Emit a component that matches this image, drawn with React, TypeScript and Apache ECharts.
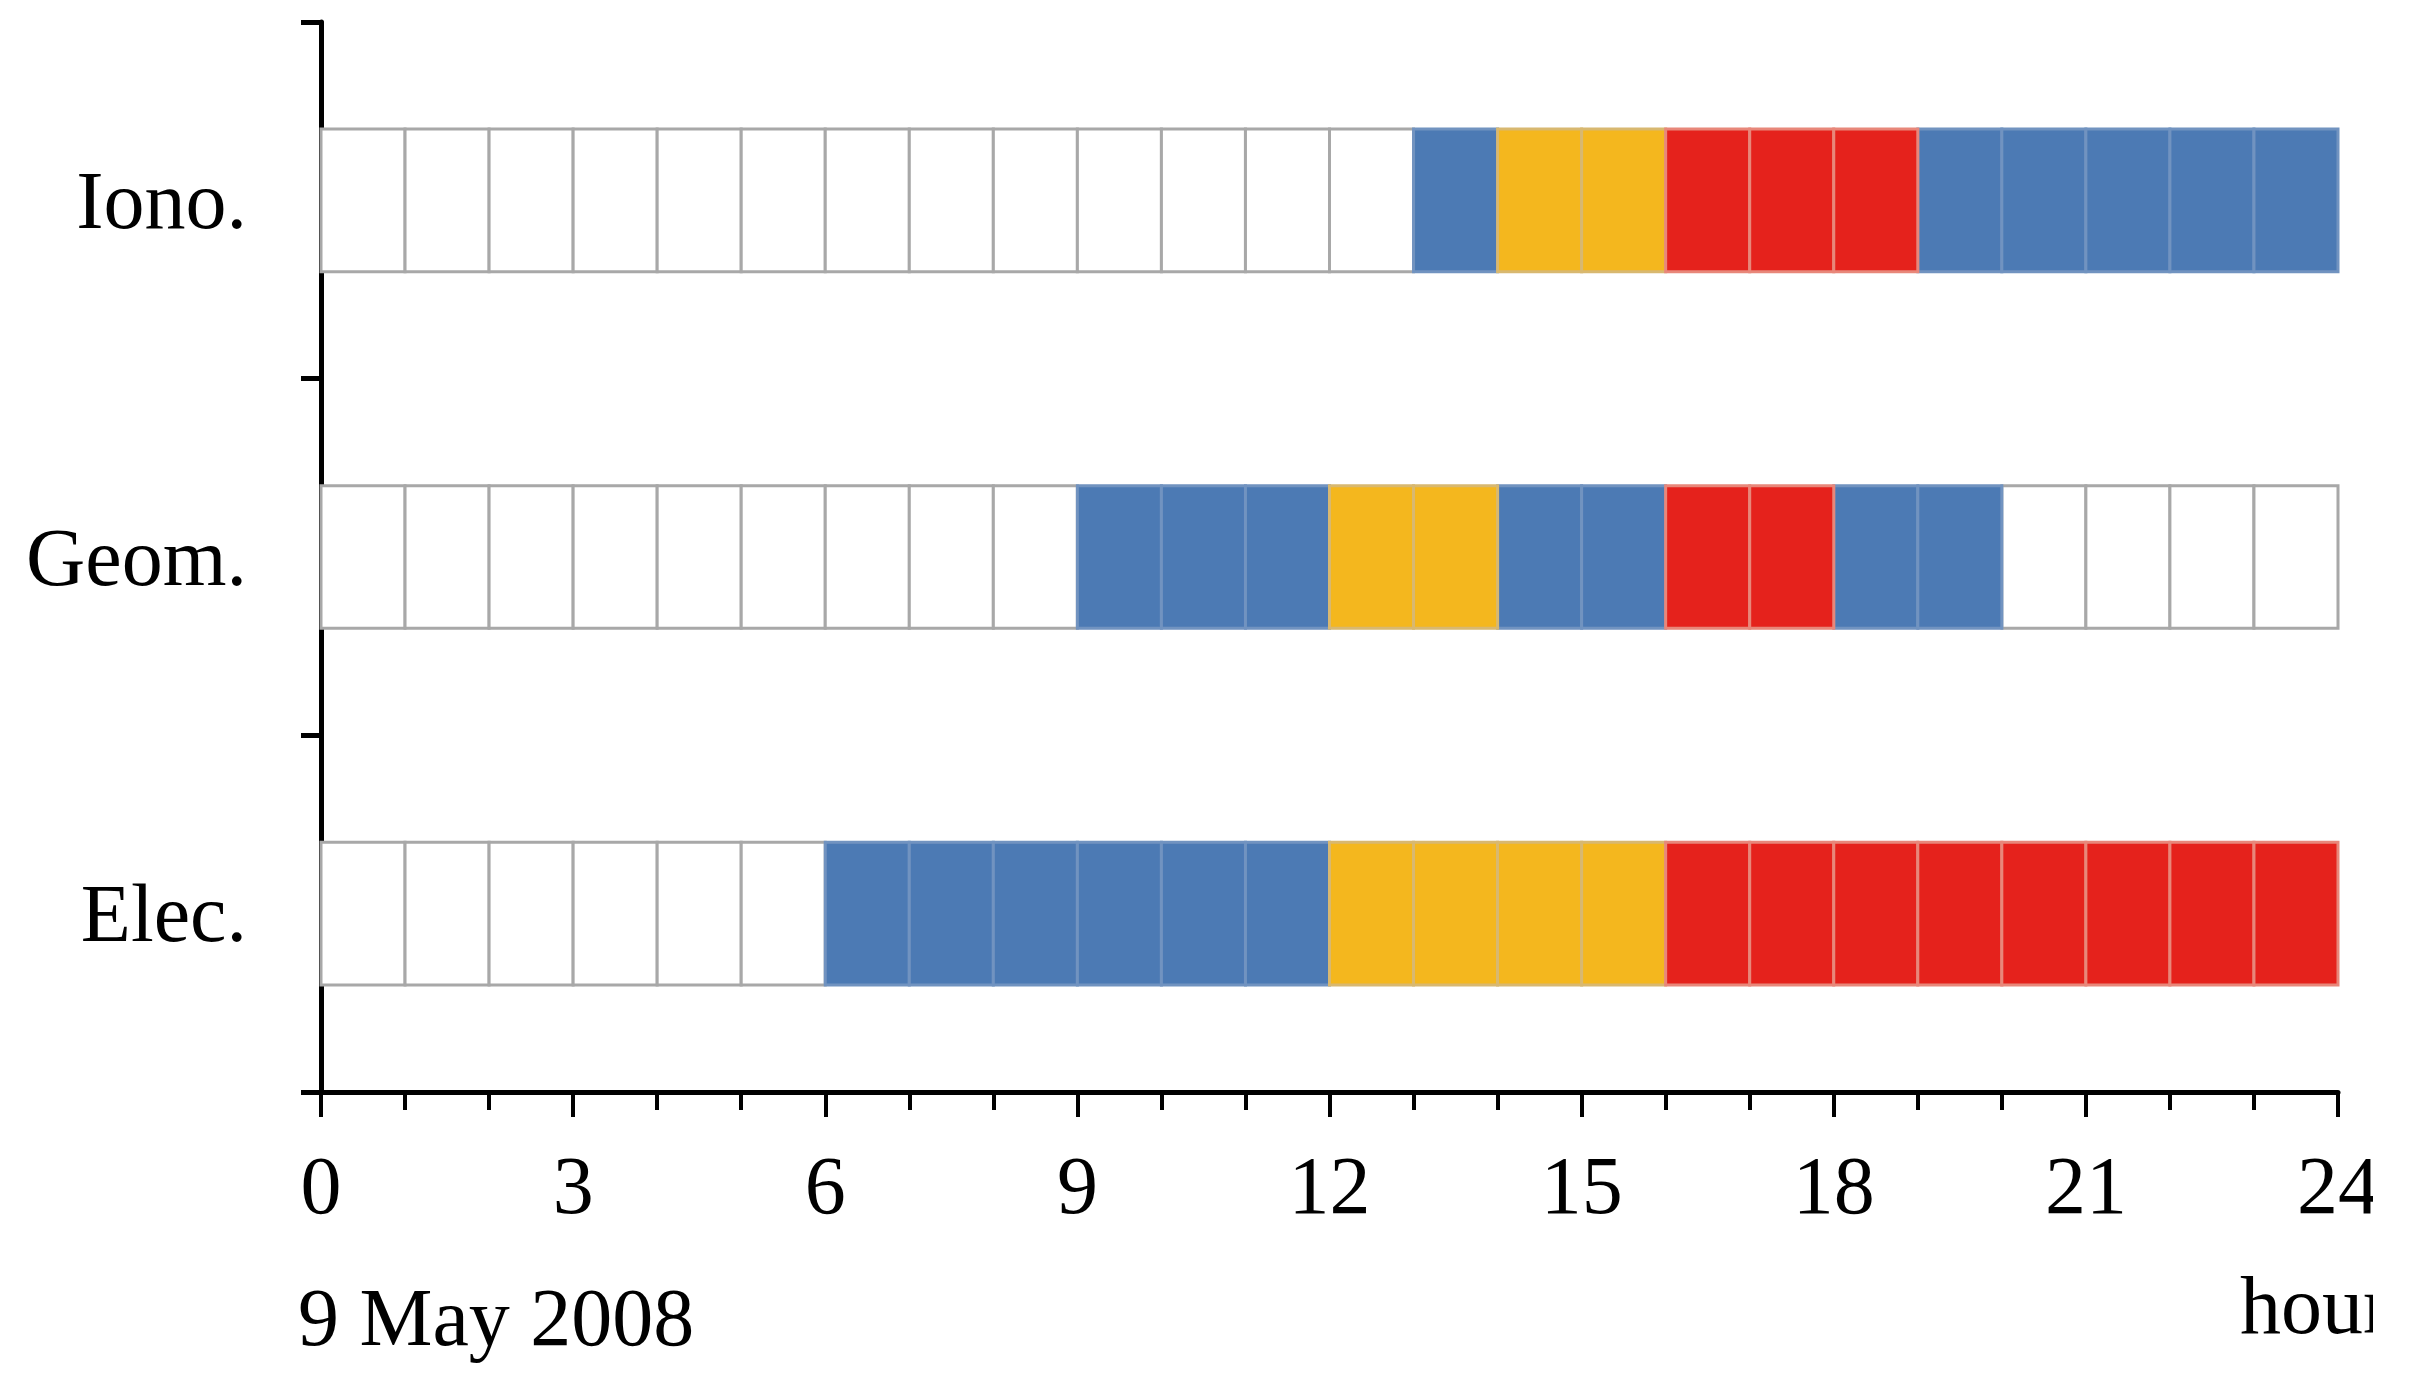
import React, { useEffect, useRef } from "react";
import * as echarts from "echarts";

// Rows (bottom to top on the category axis)
const rows = ["Elec.", "Geom.", "Iono."];
// Hour index of each cell (start of the hour)
const hours = [0, 1, 2, 3, 4, 5, 6, 7, 8, 9, 10, 11, 12, 13, 14, 15, 16, 17, 18, 19, 20, 21, 22, 23];
// Level per hour: 0 = none, 1 = blue, 2 = yellow, 3 = red
const elecLevels = [0, 0, 0, 0, 0, 0, 1, 1, 1, 1, 1, 1, 2, 2, 2, 2, 3, 3, 3, 3, 3, 3, 3, 3];
const geomLevels = [0, 0, 0, 0, 0, 0, 0, 0, 0, 1, 1, 1, 2, 2, 1, 1, 3, 3, 1, 1, 0, 0, 0, 0];
const ionoLevels = [0, 0, 0, 0, 0, 0, 0, 0, 0, 0, 0, 0, 0, 1, 2, 2, 3, 3, 3, 1, 1, 1, 1, 1];
const xTickLabels = ["0", "3", "6", "9", "12", "15", "18", "21", "24"];
const dateLabel = "9 May 2008";
const unitLabel = "hour";

const levelFill = ["#FFFFFF", "#4C7AB4", "#F4B71E", "#E5221C"];
const levelStroke = ["#A8A8A8", "#7193C0", "#D8B870", "#E8877A"];

const FONT = "'Liberation Serif', 'Times New Roman', serif";

export default function App() {
  const ref = useRef<HTMLDivElement>(null);

  useEffect(() => {
    if (!ref.current) return;
    const chart = echarts.init(ref.current, undefined, { renderer: "svg" });

    const levelsByRow = [elecLevels, geomLevels, ionoLevels];
    const data: number[][] = [];
    levelsByRow.forEach((lv, r) => {
      hours.forEach((h, i) => data.push([h, r, lv[i]]));
    });

    chart.setOption({
      animation: false,
      backgroundColor: "#ffffff",
      grid: {
        left: 313,
        right: 35,
        top: 14,
        bottom: 276,
        containLabel: false,
        outerBoundsMode: "none",
      },
      xAxis: {
        type: "value",
        min: 0,
        max: 24,
        interval: 3,
        axisLine: { show: true, lineStyle: { color: "#000", width: 5 } },
        axisTick: { show: true, length: 25, lineStyle: { color: "#000", width: 4 } },
        minorTick: { show: true, splitNumber: 3, length: 18, lineStyle: { color: "#000", width: 4 } },
        splitLine: { show: false },
        minorSplitLine: { show: false },
        axisLabel: {
          margin: 52,
          fontSize: 82,
          fontFamily: FONT,
          color: "#000",
          hideOverlap: false,
          formatter: (v: number) => xTickLabels[Math.round(v / 3)] ?? String(v),
        },
      },
      yAxis: {
        type: "category",
        data: rows,
        boundaryGap: true,
        axisLine: { show: true, lineStyle: { color: "#000", width: 5 } },
        axisTick: { show: true, length: 20, lineStyle: { color: "#000", width: 5 } },
        splitLine: { show: false },
        axisLabel: {
          margin: 74,
          fontSize: 82,
          fontFamily: FONT,
          color: "#000",
        },
      },
      graphic: [
        {
          type: "text",
          left: 290,
          top: 1268,
          style: { text: dateLabel, font: `82px ${FONT}`, fill: "#000" },
        },
        {
          type: "text",
          left: 2232,
          top: 1256,
          style: { text: unitLabel, font: `82px ${FONT}`, fill: "#000" },
        },
      ],
      series: [
        {
          type: "custom",
          data,
          encode: { x: 0, y: 1 },
          renderItem: (params: any, api: any) => {
            const h = api.value(0);
            const r = api.value(1);
            const lvl = api.value(2);
            const p0 = api.coord([h, r]);
            const p1 = api.coord([h + 1, r]);
            const band = api.size([0, 1])[1];
            const hh = band * 0.4;
            return {
              type: "rect",
              z2: lvl,
              shape: { x: p0[0], y: p0[1] - hh / 2, width: p1[0] - p0[0], height: hh },
              style: { fill: levelFill[lvl], stroke: levelStroke[lvl], lineWidth: 3 },
            };
          },
        },
      ],
    });

    return () => chart.dispose();
  }, []);

  return <div ref={ref} style={{ width: 2365, height: 1360 }} />;
}
